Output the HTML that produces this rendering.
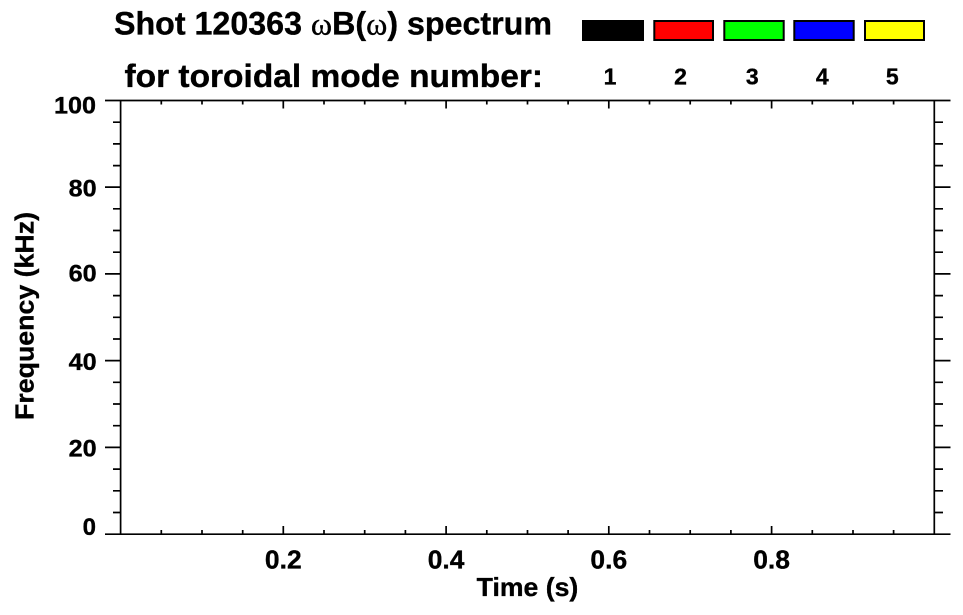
<!DOCTYPE html>
<html>
<head>
<meta charset="utf-8">
<style>
html,body{margin:0;padding:0;background:#fff;}
svg{display:block;}
text{font-family:"Liberation Sans",Arial,sans-serif;font-weight:bold;fill:#000;stroke:#000;stroke-width:0.35;}
</style>
</head>
<body>
<svg width="963" height="615" viewBox="0 0 963 615" xmlns="http://www.w3.org/2000/svg">
<rect width="963" height="615" fill="#fff"/>
<!-- Titles -->
<text x="114" y="34.5" font-size="32" textLength="438" lengthAdjust="spacingAndGlyphs">Shot 120363 <tspan font-family="Liberation Serif, serif" font-weight="normal">ω</tspan>B(<tspan font-family="Liberation Serif, serif" font-weight="normal">ω</tspan>) spectrum</text>
<text x="124.5" y="87" font-size="32" textLength="418.5" lengthAdjust="spacingAndGlyphs">for toroidal mode number:</text>
<!-- Legend boxes -->
<g stroke="#000" stroke-width="2">
<rect x="583" y="21" width="60" height="19" fill="#000"/>
<rect x="654.3" y="21" width="58.7" height="19" fill="#ff0000"/>
<rect x="724.3" y="21" width="59.4" height="19" fill="#00ff00"/>
<rect x="794.3" y="21" width="59.4" height="19" fill="#0000ff"/>
<rect x="865" y="21" width="59" height="19" fill="#ffff00"/>
</g>
<g font-size="23" text-anchor="middle">
<text x="610" y="84.3">1</text>
<text x="680.5" y="84.3">2</text>
<text x="752.3" y="84.3">3</text>
<text x="822.3" y="84.3">4</text>
<text x="892.3" y="84.3">5</text>
</g>
<!-- Axes -->
<g stroke="#000" stroke-width="1.7" fill="none">
<line x1="105" y1="100.5" x2="950.5" y2="100.5"/>
<line x1="105" y1="534.2" x2="950.5" y2="534.2"/>
<line x1="120.6" y1="100.5" x2="120.6" y2="534.2"/>
<line x1="934.3" y1="100.5" x2="934.3" y2="534.2"/>
<path d="
M105 187.1H120.6 M105 273.9H120.6 M105 360.6H120.6 M105 447.4H120.6
M934.3 187.1H950.5 M934.3 273.9H950.5 M934.3 360.6H950.5 M934.3 447.4H950.5
M113 122.2H120.6 M113 143.9H120.6 M113 165.6H120.6
M113 208.8H120.6 M113 230.5H120.6 M113 252.2H120.6
M113 295.6H120.6 M113 317.3H120.6 M113 339.0H120.6
M113 382.3H120.6 M113 404.0H120.6 M113 425.7H120.6
M113 469.1H120.6 M113 490.8H120.6 M113 512.5H120.6
M934.3 122.2H943 M934.3 143.9H943 M934.3 165.6H943
M934.3 208.8H943 M934.3 230.5H943 M934.3 252.2H943
M934.3 295.6H943 M934.3 317.3H943 M934.3 339.0H943
M934.3 382.3H943 M934.3 404.0H943 M934.3 425.7H943
M934.3 469.1H943 M934.3 490.8H943 M934.3 512.5H943
"/>
<path d="
M283.3 534.2V526 M446.1 534.2V526 M608.8 534.2V526 M771.6 534.2V526
M283.3 100.5V108.5 M446.1 100.5V108.5 M608.8 100.5V108.5 M771.6 100.5V108.5
M161.3 534.2V530 M202.0 534.2V530 M242.7 534.2V530
M324.0 534.2V530 M364.7 534.2V530 M405.4 534.2V530
M486.8 534.2V530 M527.5 534.2V530 M568.1 534.2V530
M649.5 534.2V530 M690.2 534.2V530 M730.9 534.2V530
M812.3 534.2V530 M853.0 534.2V530 M893.6 534.2V530
M161.3 100.5V104.5 M202.0 100.5V104.5 M242.7 100.5V104.5
M324.0 100.5V104.5 M364.7 100.5V104.5 M405.4 100.5V104.5
M486.8 100.5V104.5 M527.5 100.5V104.5 M568.1 100.5V104.5
M649.5 100.5V104.5 M690.2 100.5V104.5 M730.9 100.5V104.5
M812.3 100.5V104.5 M853.0 100.5V104.5 M893.6 100.5V104.5
"/>
</g>
<!-- Y tick labels -->
<g font-size="24" text-anchor="end">
<text x="96" y="113.3" textLength="42" lengthAdjust="spacingAndGlyphs">100</text>
<text x="96.7" y="196.7" textLength="28" lengthAdjust="spacingAndGlyphs">80</text>
<text x="96.7" y="281.7" textLength="28" lengthAdjust="spacingAndGlyphs">60</text>
<text x="96.7" y="370" textLength="28" lengthAdjust="spacingAndGlyphs">40</text>
<text x="96.7" y="456.7" textLength="28" lengthAdjust="spacingAndGlyphs">20</text>
<text x="96" y="535">0</text>
</g>
<!-- X tick labels -->
<g font-size="26" text-anchor="middle">
<text x="283.3" y="568.3" textLength="36.7" lengthAdjust="spacingAndGlyphs">0.2</text>
<text x="446.1" y="568.3" textLength="36.7" lengthAdjust="spacingAndGlyphs">0.4</text>
<text x="608.8" y="568.3" textLength="36.7" lengthAdjust="spacingAndGlyphs">0.6</text>
<text x="771.6" y="568.3" textLength="36.7" lengthAdjust="spacingAndGlyphs">0.8</text>
</g>
<!-- Axis titles -->
<text x="527.5" y="596" font-size="26" text-anchor="middle" textLength="101.6" lengthAdjust="spacingAndGlyphs">Time (s)</text>
<text transform="translate(33.5,316) rotate(-90)" x="0" y="0" font-size="26" text-anchor="middle" textLength="208" lengthAdjust="spacingAndGlyphs">Frequency (kHz)</text>
</svg>
</body>
</html>
